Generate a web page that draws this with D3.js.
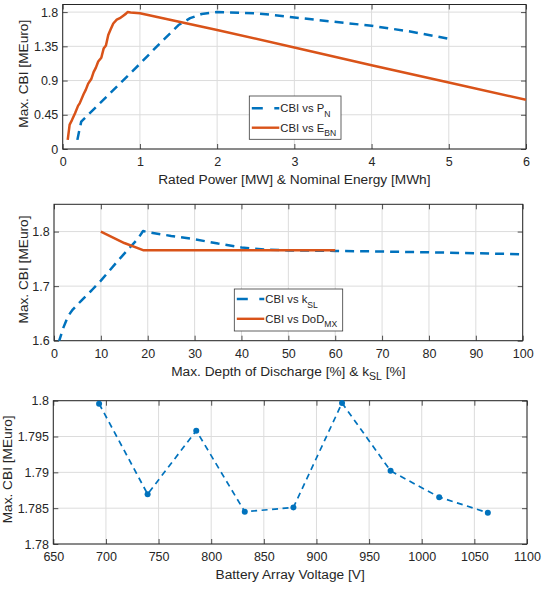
<!DOCTYPE html>
<html>
<head>
<meta charset="utf-8">
<script src="https://cdn.jsdelivr.net/npm/d3@7/dist/d3.min.js"></script>
<style>
  html, body { margin: 0; padding: 0; background: #fff; }
  svg { display: block; }
  text { font-family: "Liberation Sans", Arial, Helvetica, sans-serif; fill: #262626; }
</style>
</head>
<body>
<svg id="fig" width="554" height="590"></svg>
<script>
// ---- Panel 1: max CBI vs rated power P_N and nominal energy E_BN ----
const pnX  = [0.19, 0.21, 0.24, 0.5, 0.75, 1.0, 1.25, 1.5, 1.65, 1.8, 2.0, 2.5, 2.75, 3.0, 3.5, 4.0, 4.5, 5.0];
const pnY  = [0.12, 0.22, 0.36, 0.62, 0.87, 1.12, 1.38, 1.63, 1.72, 1.775, 1.80, 1.785, 1.76, 1.73, 1.675, 1.62, 1.545, 1.45];
const ebnX = [0.065, 0.09, 0.12, 0.16, 0.2, 0.22, 0.27, 0.3, 0.33, 0.37, 0.4, 0.43, 0.46, 0.5, 0.53, 0.56, 0.59, 0.62, 0.655, 0.7, 0.74, 0.78, 0.82, 0.84, 0.88, 1.0, 2.0, 3.0, 4.0, 5.0, 6.0];
const ebnY = [0.12, 0.32, 0.38, 0.47, 0.57, 0.6, 0.72, 0.78, 0.86, 0.92, 1.01, 1.07, 1.15, 1.2, 1.32, 1.36, 1.5, 1.57, 1.65, 1.7, 1.72, 1.75, 1.78, 1.80, 1.795, 1.785, 1.565, 1.335, 1.10, 0.874, 0.646];
const topXTicks = [0, 1, 2, 3, 4, 5, 6];
const topYTicks = [0, 0.45, 0.9, 1.35, 1.8];
const topYLabels = ["0", "0.45", "0.9", "1.35", "1.8"];

// ---- Panel 2: max CBI vs k_SL and DoD_MX ----
const kslX = [1, 2, 3, 4, 5, 6, 8, 10, 12, 14, 16, 18, 19, 20, 25, 30, 35, 40, 45, 50, 60, 70, 80, 90, 100];
const kslY = [1.597, 1.624, 1.645, 1.657, 1.666, 1.675, 1.692, 1.71, 1.73, 1.75, 1.769, 1.788, 1.801, 1.799, 1.792, 1.786, 1.778, 1.771, 1.767, 1.7655, 1.7646, 1.7635, 1.762, 1.7603, 1.7585];
const dodX = [10, 15, 19, 20, 30, 40, 50, 60];
const dodY = [1.80, 1.779, 1.766, 1.766, 1.766, 1.766, 1.766, 1.766];
const midXTicks = [0, 10, 20, 30, 40, 50, 60, 70, 80, 90, 100];
const midYTicks = [1.6, 1.7, 1.8];
const midYLabels = ["1.6", "1.7", "1.8"];

// ---- Panel 3: max CBI vs battery array voltage ----
const voltX = [693.5, 739.6, 785.8, 831.9, 878.1, 924.3, 970.4, 1016.6, 1062.8];
const voltY = [1.79958, 1.78696, 1.79582, 1.7845, 1.7851, 1.79968, 1.79021, 1.78654, 1.78436];
const botXTicks = [650, 700, 750, 800, 850, 900, 950, 1000, 1050, 1100];
const botYTicks = [1.78, 1.785, 1.79, 1.795, 1.8];
const botYLabels = ["1.78", "1.785", "1.79", "1.795", "1.8"];

const BLUE = "#0072BD", ORANGE = "#D95319", AXIS = "#262626", GRID = "#dcdcdc";
const TICK_FONT = "12.5px", LABEL_FONT = "13.7px", LEG_FONT = "11.3px", SUB_FONT = "8.6px";

const svg = d3.select("#fig");

function drawPanel(cfg) {
  const { box, xDomain, yDomain, xTicks, yTicks, yLabels, id } = cfg;
  const x = d3.scaleLinear().domain(xDomain).range([box.l, box.r]);
  const y = d3.scaleLinear().domain(yDomain).range([box.b, box.t]);
  const g = svg.append("g");

  g.append("clipPath").attr("id", id)
    .append("rect").attr("x", box.l).attr("y", box.t)
    .attr("width", box.r - box.l).attr("height", box.b - box.t);

  // grid
  g.append("g").selectAll("line").data(xTicks).join("line")
    .attr("x1", d => x(d)).attr("x2", d => x(d))
    .attr("y1", box.t).attr("y2", box.b)
    .attr("stroke", GRID).attr("stroke-width", 1);
  g.append("g").selectAll("line").data(yTicks).join("line")
    .attr("y1", d => y(d)).attr("y2", d => y(d))
    .attr("x1", box.l).attr("x2", box.r)
    .attr("stroke", GRID).attr("stroke-width", 1);

  // axes with inward ticks
  const ax = [
    g.append("g").attr("transform", `translate(0,${box.b})`)
      .call(d3.axisBottom(x).tickValues(xTicks).tickFormat(d3.format("")).tickSizeInner(-5).tickSizeOuter(0).tickPadding(8.6)),
    g.append("g").attr("transform", `translate(${box.l},0)`)
      .call(d3.axisLeft(y).tickValues(yTicks).tickFormat((d, i) => yLabels[i]).tickSizeInner(-5).tickSizeOuter(0).tickPadding(4.4)),
    g.append("g").attr("transform", `translate(0,${box.t})`)
      .call(d3.axisTop(x).tickValues(xTicks).tickFormat("").tickSizeInner(-5).tickSizeOuter(0)),
    g.append("g").attr("transform", `translate(${box.r},0)`)
      .call(d3.axisRight(y).tickValues(yTicks).tickFormat("").tickSizeInner(-5).tickSizeOuter(0))
  ];
  ax.forEach(a => {
    a.select(".domain").remove();
    a.selectAll(".tick line").attr("stroke", AXIS).attr("stroke-width", 0.8);
    a.selectAll("text").style("font-size", TICK_FONT).attr("fill", AXIS);
  });
  // axes box
  g.append("rect").attr("x", box.l).attr("y", box.t)
    .attr("width", box.r - box.l).attr("height", box.b - box.t)
    .attr("fill", "none").attr("stroke", AXIS).attr("stroke-width", 1);

  // y label
  g.append("text")
    .attr("transform", `translate(${cfg.yLabelX},${(box.t + box.b) / 2 - 3}) rotate(-90)`)
    .attr("text-anchor", "middle").style("font-size", LABEL_FONT)
    .text("Max. CBI [MEuro]");

  const plot = g.append("g").attr("clip-path", `url(#${id})`);
  return { x, y, g, plot };
}

function series(p, xs, ys, color, width, dash) {
  const line = d3.line().x((d, i) => p.x(xs[i])).y((d, i) => p.y(ys[i]));
  p.plot.append("path").datum(xs).attr("d", line)
    .attr("fill", "none").attr("stroke", color).attr("stroke-width", width)
    .attr("stroke-linejoin", "round")
    .attr("stroke-dasharray", dash || null);
}

function legend(p, lb, entries) {
  const lg = p.g.append("g");
  lg.append("rect").attr("x", lb.l).attr("y", lb.t)
    .attr("width", lb.r - lb.l).attr("height", lb.b - lb.t)
    .attr("fill", "#fff").attr("stroke", "#3a3a3a").attr("stroke-width", 0.8);
  entries.forEach((e, i) => {
    const yy = lb.rows[i];
    lg.append("line").attr("x1", lb.l + 2.5).attr("x2", lb.l + 30)
      .attr("y1", yy).attr("y2", yy)
      .attr("stroke", e.color).attr("stroke-width", 2.4)
      .attr("stroke-dasharray", e.dash || null);
    const t = lg.append("text").attr("x", lb.l + 31).attr("y", yy + 4)
      .style("font-size", LEG_FONT);
    t.append("tspan").text(e.main);
    t.append("tspan").attr("dy", 4.5).style("font-size", SUB_FONT).text(e.sub);
  });
}

// ---- Panel 1 ----
const p1 = drawPanel({
  id: "clip1", box: { l: 62.7, r: 526, t: 4.5, b: 149 },
  xDomain: [0, 6], yDomain: [0, 1.9],
  xTicks: topXTicks, yTicks: topYTicks, yLabels: topYLabels, yLabelX: 28
});
series(p1, pnX, pnY, BLUE, 2.5, "9,6");
series(p1, ebnX, ebnY, ORANGE, 2.5);
legend(p1, { l: 249.3, r: 341, t: 96, b: 139.3, rows: [108.3, 127.7] }, [
  { color: BLUE, dash: "11,11.5", main: "CBI vs P", sub: "N" },
  { color: ORANGE, main: "CBI vs E", sub: "BN" }
]);
p1.g.append("text").attr("x", (62.7 + 526) / 2).attr("y", 183.5)
  .attr("text-anchor", "middle").style("font-size", LABEL_FONT)
  .text("Rated Power [MW] & Nominal Energy [MWh]");

// ---- Panel 2 ----
const p2 = drawPanel({
  id: "clip2", box: { l: 54, r: 522.7, t: 204.3, b: 340.7 },
  xDomain: [0, 100], yDomain: [1.6, 1.85],
  xTicks: midXTicks, yTicks: midYTicks, yLabels: midYLabels, yLabelX: 28
});
series(p2, kslX, kslY, BLUE, 2.5, "9,6");
series(p2, dodX, dodY, ORANGE, 2.5);
legend(p2, { l: 234.3, r: 342.7, t: 289, b: 331, rows: [299, 318.8] }, [
  { color: BLUE, dash: "11,11.5", main: "CBI vs k", sub: "SL" },
  { color: ORANGE, main: "CBI vs DoD", sub: "MX" }
]);
{
  const t = p2.g.append("text").attr("x", (54 + 522.7) / 2).attr("y", 375.5)
    .attr("text-anchor", "middle").style("font-size", LABEL_FONT);
  t.append("tspan").text("Max. Depth of Discharge [%] & k");
  t.append("tspan").attr("dy", 4.5).style("font-size", "10.5px").text("SL");
  t.append("tspan").attr("dy", -4.5).text(" [%]");
}

// ---- Panel 3 ----
const p3 = drawPanel({
  id: "clip3", box: { l: 53.3, r: 527, t: 400.7, b: 544 },
  xDomain: [650, 1100], yDomain: [1.78, 1.8],
  xTicks: botXTicks, yTicks: botYTicks, yLabels: botYLabels, yLabelX: 12
});
series(p3, voltX, voltY, BLUE, 1.7, "6,4.5");
p3.g.append("g").selectAll("circle").data(voltX).join("circle")
  .attr("cx", d => p3.x(d)).attr("cy", (d, i) => p3.y(voltY[i]))
  .attr("r", 3).attr("fill", BLUE);
p3.g.append("text").attr("x", (53.3 + 527) / 2).attr("y", 579)
  .attr("text-anchor", "middle").style("font-size", LABEL_FONT)
  .text("Battery Array Voltage [V]");
</script>
</body>
</html>
